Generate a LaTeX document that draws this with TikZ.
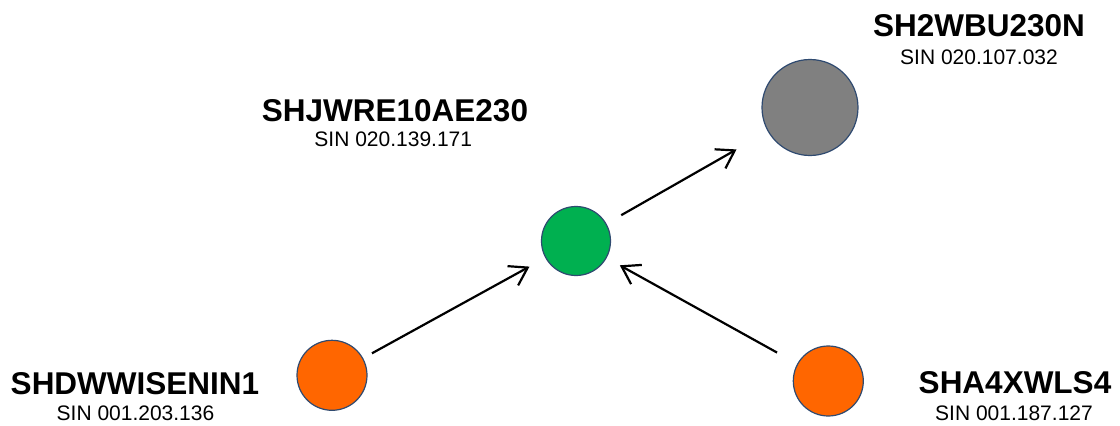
\documentclass[tikz,border=0pt]{standalone}
\usepackage{fontspec}
\setmainfont{Liberation Sans}
\usetikzlibrary{arrows.meta}
\definecolor{nodeedge}{HTML}{2F4A70}
\definecolor{ngreen}{HTML}{00B050}
\definecolor{norange}{HTML}{FF6600}
\definecolor{ngray}{HTML}{808080}
\tikzset{
  dot/.style={circle, draw=nodeedge, line width=1.2pt, inner sep=0pt},
  title/.style={anchor=base, font=\fontsize{31.5}{36}\selectfont\bfseries, inner sep=0pt},
  sub/.style={anchor=base, font=\fontsize{21}{24}\selectfont, inner sep=0pt},
  arr/.style={line width=2.2pt, -{Straight Barb[length=17pt,width=22pt,line width=2.2pt]}}
}
\begin{document}
\begin{tikzpicture}[x=1pt,y=-1pt]
\useasboundingbox (0,0) rectangle (1120,426);
% circles
\node[dot, fill=ngreen, minimum size=69pt] (g) at (576,241) {};
\node[dot, fill=ngray, minimum size=96pt] (gr) at (810,107.5) {};
\node[dot, fill=norange, minimum size=70pt] (lo) at (332,375.3) {};
\node[dot, fill=norange, minimum size=70pt] (ro) at (828.3,381) {};
% labels
\node[title] (t1) at (135,394) {SHDWWISENIN1};
\node[sub] (s1) at (135.5,420.7) {SIN 001.203.136};
\node[title] (t2) at (1015,393.3) {SHA4XWLS4};
\node[sub] (s2) at (1014,420) {SIN 001.187.127};
\node[title] (t3) at (395,121.7) {SHJWRE10AE230};
\node[sub] (s3) at (393.3,146.7) {SIN 020.139.171};
\node[title] (t4) at (979,36.7) {SH2WBU230N};
\node[sub] (s4) at (979,64) {SIN 020.107.032};
% arrows
\draw[arr, shorten <=10pt, shorten >=18pt] (lo) -- (g);
\draw[arr, shorten <=23pt, shorten >=15pt] (ro) -- (g);
\draw[arr, shorten <=17pt, shorten >=36pt] (g) -- (gr);
\end{tikzpicture}
\end{document}
